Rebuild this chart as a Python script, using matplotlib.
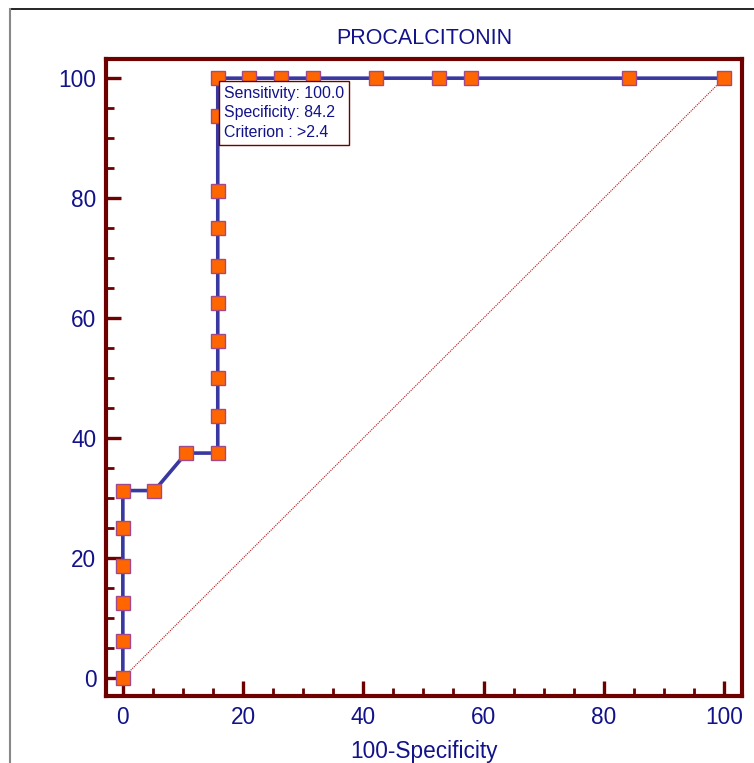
import matplotlib
matplotlib.use('Agg')
import matplotlib.pyplot as plt
from matplotlib.lines import Line2D
from matplotlib.ticker import MultipleLocator

# ROC points (100-Specificity, Sensitivity)
fpr = [0, 0, 0, 0, 0, 0, 5.26, 10.53, 15.79, 15.79, 15.79, 15.79, 15.79,
       15.79, 15.79, 15.79, 15.79, 15.79, 21.05, 26.32, 31.58, 42.11,
       52.63, 57.89, 84.21, 100]
tpr = [0, 6.25, 12.5, 18.75, 25, 31.25, 31.25, 37.5, 37.5, 43.75, 50,
       56.25, 62.5, 68.75, 75, 81.25, 93.75, 100, 100, 100, 100, 100,
       100, 100, 100, 100]

title = 'PROCALCITONIN'
x_label = '100-Specificity'
box_text = 'Sensitivity: 100.0\nSpecificity: 84.2\nCriterion : >2.4'
best_point = (15.79, 100)

navy = '#12128a'
dark_red = '#6e0000'

plt.rcParams['font.family'] = ['Liberation Sans', 'DejaVu Sans']

fig = plt.figure(figsize=(7.54, 7.63), dpi=100)
ax = fig.add_axes([0.1406, 0.0878, 0.8435, 0.8349])

# frame lines of the original picture
fig.add_artist(Line2D([10 / 754, 1], [1 - 9 / 763, 1 - 9 / 763], color='black', lw=1.2,
                      transform=fig.transFigure))
fig.add_artist(Line2D([10 / 754, 10 / 754], [0, 1 - 9 / 763], color='#888888', lw=1.5,
                      transform=fig.transFigure))

ax.plot([0, 100], [0, 100], color='#b01818', lw=0.8, ls=(0, (1, 1)))
ax.plot(fpr, tpr, color='#3838a0', lw=2.6, marker='s', markersize=9.5,
        markerfacecolor='#ff6600', markeredgecolor='#a04a8c', markeredgewidth=1.0,
        clip_on=False, zorder=3)

ax.annotate(box_text, xy=best_point, xytext=(4.5, -5.5), textcoords='offset points',
            ha='left', va='top', fontsize=11.4, color=navy, linespacing=1.38,
            bbox=dict(boxstyle='square,pad=0.3', fc='white', ec=dark_red, lw=1.0),
            zorder=5)

ax.set_xlim(-2.8, 103)
ax.set_ylim(-3, 103.2)
ax.xaxis.set_major_locator(MultipleLocator(20))
ax.xaxis.set_minor_locator(MultipleLocator(5))
ax.yaxis.set_major_locator(MultipleLocator(20))
ax.yaxis.set_minor_locator(MultipleLocator(5))

for spine in ax.spines.values():
    spine.set_color(dark_red)
    spine.set_linewidth(3)

ax.tick_params(which='major', direction='in', length=11, width=2.4, color=dark_red,
               labelsize=16.3, labelcolor=navy, pad=7)
ax.tick_params(which='minor', direction='in', length=6, width=2.0, color=dark_red)
ax.tick_params(axis='x', which='both', top=False)
ax.tick_params(axis='y', which='both', right=False)

ax.set_title(title, fontsize=15.5, color=navy, pad=11)
ax.set_xlabel(x_label, fontsize=16.3, color=navy, labelpad=8)

fig.savefig('out.png', dpi=100)
